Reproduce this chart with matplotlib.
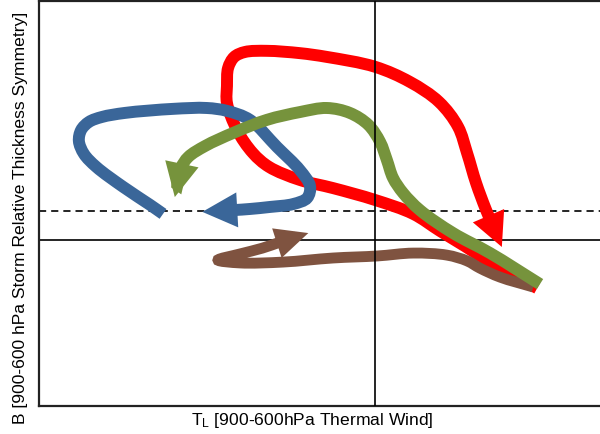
import numpy as np
import matplotlib
matplotlib.use("Agg")
import matplotlib.pyplot as plt
from matplotlib.path import Path
from matplotlib.patches import FancyArrowPatch, ArrowStyle

plt.rcParams['font.family'] = ['Liberation Sans', 'DejaVu Sans']

# Cyclone phase-space tracks: x = lower-tropospheric thermal wind (-V_T^L),
# y = B (900-600 hPa storm-relative thickness symmetry). Each track ends at its arrow tip.
red_x = [289, 205, 160, 116, 68, 0, -75, -134, -189, -218, -246, -264, -264, -262, -251,
         -232, -193, -134, -86, 0, 62, 114, 148, 164, 180, 198, 226]
red_y = [-16.6, -7.6, -2.1, 3.1, 9.0, 13.8, 17.9, 20.7, 25.2, 30.0, 37.9, 47.2, 53.1, 59.3, 63.1,
         64.8, 65.2, 64.4, 63.1, 59.7, 54.5, 47.6, 39.0, 30.0, 19.7, 10.3, -2.4]

blue_x = [-378, -401, -449, -497, -519, -528, -524, -510, -487, -446, -360, -300, -264, -223,
          -175, -134, -116, -121, -146, -187, -223, -253, -308]
blue_y = [9.0, 12.1, 18.3, 25.2, 29.7, 34.1, 37.9, 40.7, 42.4, 43.8, 45.2, 45.5, 44.5, 41.4,
          32.1, 24.1, 18.6, 14.5, 12.4, 11.4, 10.7, 10.3, 9.7]

green_x = [294, 205, 139, 80, 50, 32, 21, 9, -12, -45, -86, -134, -193, -253, -303, -333, -346, -357]
green_y = [-15.2, -4.5, 2.4, 10.3, 16.2, 21.4, 27.6, 33.8, 39.7, 43.8, 45.5, 44.1, 41.4, 36.9,
           32.4, 28.6, 24.8, 14.8]

brown_x = [282, 223, 187, 164, 128, 68, 4, -75, -164, -241, -280, -241, -201, -169, -119]
brown_y = [-16.2, -12.8, -9.7, -7.2, -5.2, -4.5, -5.5, -6.2, -7.6, -7.9, -6.9, -4.8, -2.8, -0.7, 2.4]

# Reference lines
B_zero = 0
B_threshold = 10
VT_zero = 0

DPI = 100


def smooth_path(ax, xs, ys):
    """Centripetal Catmull-Rom spline through the track points, as cubic Beziers."""
    pts = np.column_stack([xs, ys]).astype(float)
    disp = ax.transData.transform(pts)
    ext = np.vstack([2 * pts[0] - pts[1], pts, 2 * pts[-1] - pts[-2]])
    dext = np.vstack([2 * disp[0] - disp[1], disp, 2 * disp[-1] - disp[-2]])
    knots = np.sqrt(np.hypot(*np.diff(dext, axis=0).T)) + 1e-9
    verts = [pts[0]]
    codes = [Path.MOVETO]
    for i in range(1, len(ext) - 2):
        p0, p1, p2, p3 = ext[i - 1], ext[i], ext[i + 1], ext[i + 2]
        d0, d1, d2 = knots[i - 1], knots[i], knots[i + 1]
        m1 = ((p1 - p0) / d0 - (p2 - p0) / (d0 + d1) + (p2 - p1) / d1) * d1
        m2 = ((p2 - p1) / d1 - (p3 - p1) / (d1 + d2) + (p3 - p2) / d2) * d1
        verts += [p1 + m1 / 3, p2 - m2 / 3, p2]
        codes += [Path.CURVE4] * 3
    return Path(np.array(verts), codes)


def head_style(length_px, width_px, lw_pt):
    """Arrow-head parameters so the stroked head has roughly the given outer size."""
    L = length_px * 72 / DPI
    hw = width_px / 2 * 72 / DPI
    rho_outer = hw * L / (hw + np.hypot(hw, L))
    k = rho_outer / (rho_outer - lw_pt / 2)
    return ArrowStyle("-|>", head_length=L / k, head_width=hw / k)


fig = plt.figure(figsize=(6.0, 4.34), dpi=DPI)
left_px, top_px, bottom_px = 38.5, 1.5, 406
ax = fig.add_axes([left_px / 600, (434 - bottom_px) / 434,
                   1 - left_px / 600, (bottom_px - top_px) / 434])
ax.set_xlim(-600, 401)
ax.set_ylim(-57.2, 82.2)
ax.set_xticks([])
ax.set_yticks([])
for side in ("left", "top", "bottom"):
    ax.spines[side].set_linewidth(1.6)
    ax.spines[side].set_color("#222222")
ax.spines["right"].set_visible(False)

ax.axhline(B_zero, color="black", lw=1.2, zorder=1)
ax.axhline(B_threshold, color="black", lw=1.2, ls=(0, (4.3, 3.0)), zorder=1)
ax.axvline(VT_zero, color="black", lw=1.2, zorder=4)

# Drawn in this order so the green track lies over the brown one near their shared start
tracks = [
    (red_x, red_y, "#FF0000", 8.6, 34, 34),
    (blue_x, blue_y, "#3A6699", 8.6, 35, 35),
    (brown_x, brown_y, "#7F5340", 7.8, 33, 31),
    (green_x, green_y, "#76933C", 8.6, 34, 34),
]
for xs, ys, color, lw, hl, hwid in tracks:
    arrow = FancyArrowPatch(path=smooth_path(ax, xs, ys), arrowstyle=head_style(hl, hwid, lw),
                            mutation_scale=1, lw=lw, color=color,
                            joinstyle="miter", capstyle="butt", zorder=2)
    ax.add_patch(arrow)

ax.set_xlabel(r"$\mathregular{T_L}$ [900-600hPa Thermal Wind]", fontsize=12.6)
ax.xaxis.set_label_coords((312 - left_px) / (600 - left_px), (bottom_px - 411) / (bottom_px - top_px))
ax.set_ylabel("B [900-600 hPa Storm Relative Thickness Symmetry]", fontsize=12.6)
ax.yaxis.set_label_coords((28 - left_px) / (600 - left_px), (bottom_px - 218) / (bottom_px - top_px))

fig.savefig("out.png", dpi=DPI)
